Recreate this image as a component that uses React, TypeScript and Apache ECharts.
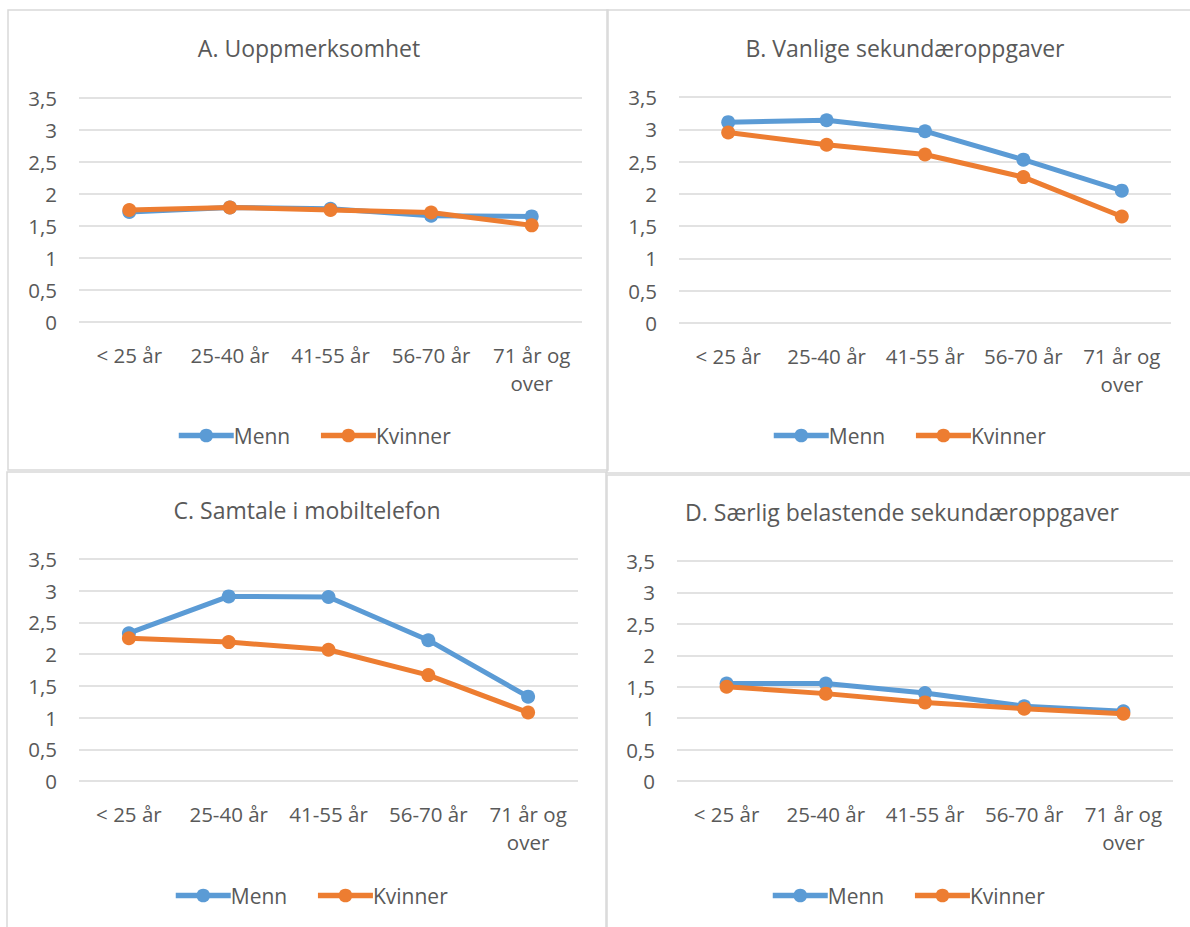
import React, { useEffect, useRef } from "react";
import * as echarts from "echarts";

const categories = ["< 25 år", "25-40 år", "41-55 år", "56-70 år", "71 år og\nover"];
const titles = [
  "A. Uoppmerksomhet",
  "B. Vanlige sekundæroppgaver",
  "C. Samtale i mobiltelefon",
  "D. Særlig belastende sekundæroppgaver",
];
const seriesNames = ["Menn", "Kvinner"];
const mennA = [1.72, 1.79, 1.77, 1.66, 1.65];
const kvinnerA = [1.75, 1.79, 1.75, 1.71, 1.51];
const mennB = [3.11, 3.14, 2.97, 2.53, 2.05];
const kvinnerB = [2.95, 2.76, 2.61, 2.26, 1.65];
const mennC = [2.33, 2.91, 2.9, 2.22, 1.33];
const kvinnerC = [2.25, 2.19, 2.07, 1.67, 1.08];
const mennD = [1.55, 1.55, 1.4, 1.19, 1.11];
const kvinnerD = [1.5, 1.39, 1.25, 1.15, 1.07];
const yTicks = { min: 0, max: 3.5, interval: 0.5 };

const FONT = "'Open Sans', sans-serif";
const TEXT = "#595959";
const GRIDC = "#D9D9D9";
const BLUE = "#5B9BD5";
const ORANGE = "#ED7D31";

const panels = [
  { grid: { left: 79, top: 98, width: 503, height: 224 }, title: [309, 48], legend: [171, 435], border: [8, 10, 600, 460], data: [mennA, kvinnerA] },
  { grid: { left: 679, top: 97, width: 492, height: 226 }, title: [905, 48], legend: [766, 435], border: [607, 10, 620, 463], data: [mennB, kvinnerB] },
  { grid: { left: 79, top: 559, width: 499, height: 222 }, title: [307, 510], legend: [168, 895], border: [7, 472, 599, 480], data: [mennC, kvinnerC] },
  { grid: { left: 677, top: 561, width: 496, height: 220 }, title: [902, 512], legend: [765, 895], border: [607, 475, 620, 480], data: [mennD, kvinnerD] },
];

export default function App() {
  const ref = useRef<HTMLDivElement>(null);
  useEffect(() => {
    if (!ref.current) return;
    const chart = echarts.init(ref.current, undefined, { renderer: "svg" });
    const option: any = {
      animation: false,
      backgroundColor: "#ffffff",
      textStyle: { fontFamily: FONT },
      grid: panels.map((p) => ({ ...p.grid, containLabel: false })),
      xAxis: panels.map((_, i) => ({
        type: "category",
        gridIndex: i,
        data: categories,
        boundaryGap: true,
        axisLine: { show: false },
        axisTick: { show: false },
        splitLine: { show: false },
        axisLabel: {
          interval: 0,
          color: TEXT,
          fontFamily: FONT,
          fontSize: 20.5,
          lineHeight: 28,
          margin: 19,
        },
      })),
      yAxis: panels.map((_, i) => ({
        type: "value",
        gridIndex: i,
        min: yTicks.min,
        max: yTicks.max,
        interval: yTicks.interval,
        axisLine: { show: false },
        axisTick: { show: false },
        splitLine: { show: true, lineStyle: { color: GRIDC, width: 1.5 } },
        axisLabel: {
          color: TEXT,
          fontFamily: FONT,
          fontSize: 20.5,
          margin: 22,
          formatter: (v: number) => String(v).replace(".", ","),
        },
      })),
      legend: panels.map((p) => ({
        data: seriesNames,
        left: p.legend[0],
        top: p.legend[1] - 15,
        itemWidth: 55,
        itemHeight: 17,
        itemGap: 28,
        lineStyle: { width: 5.5 },
        textStyle: { color: TEXT, fontFamily: FONT, fontSize: 21, padding: [0, 0, 0, -5] },
      })),
      series: panels.flatMap((p, i) =>
        seriesNames.map((name, j) => ({
          type: "line",
          name,
          xAxisIndex: i,
          yAxisIndex: i,
          data: p.data[j],
          symbol: "circle",
          symbolSize: 14,
          color: j === 0 ? BLUE : ORANGE,
          lineStyle: { width: 5, color: j === 0 ? BLUE : ORANGE },
          itemStyle: { color: j === 0 ? BLUE : ORANGE },
          z: 2 + j,
        }))
      ),
      graphic: [
        ...panels.map((p) => ({
          type: "rect",
          shape: { x: p.border[0], y: p.border[1], width: p.border[2], height: p.border[3] },
          style: { fill: "none", stroke: GRIDC, lineWidth: 1.5 },
          silent: true,
          z: -1,
        })),
        ...panels.map((p, i) => ({
          type: "text",
          x: p.title[0],
          y: p.title[1],
          style: {
            text: titles[i],
            fill: TEXT,
            font: `23px ${FONT}`,
            textAlign: "center",
            textVerticalAlign: "middle",
          },
        })),
      ],
    };
    chart.setOption(option);
    return () => chart.dispose();
  }, []);
  return (
    <div
      ref={ref}
      style={{ position: "absolute", left: 0, top: 0, width: 1190, height: 927 }}
    />
  );
}
